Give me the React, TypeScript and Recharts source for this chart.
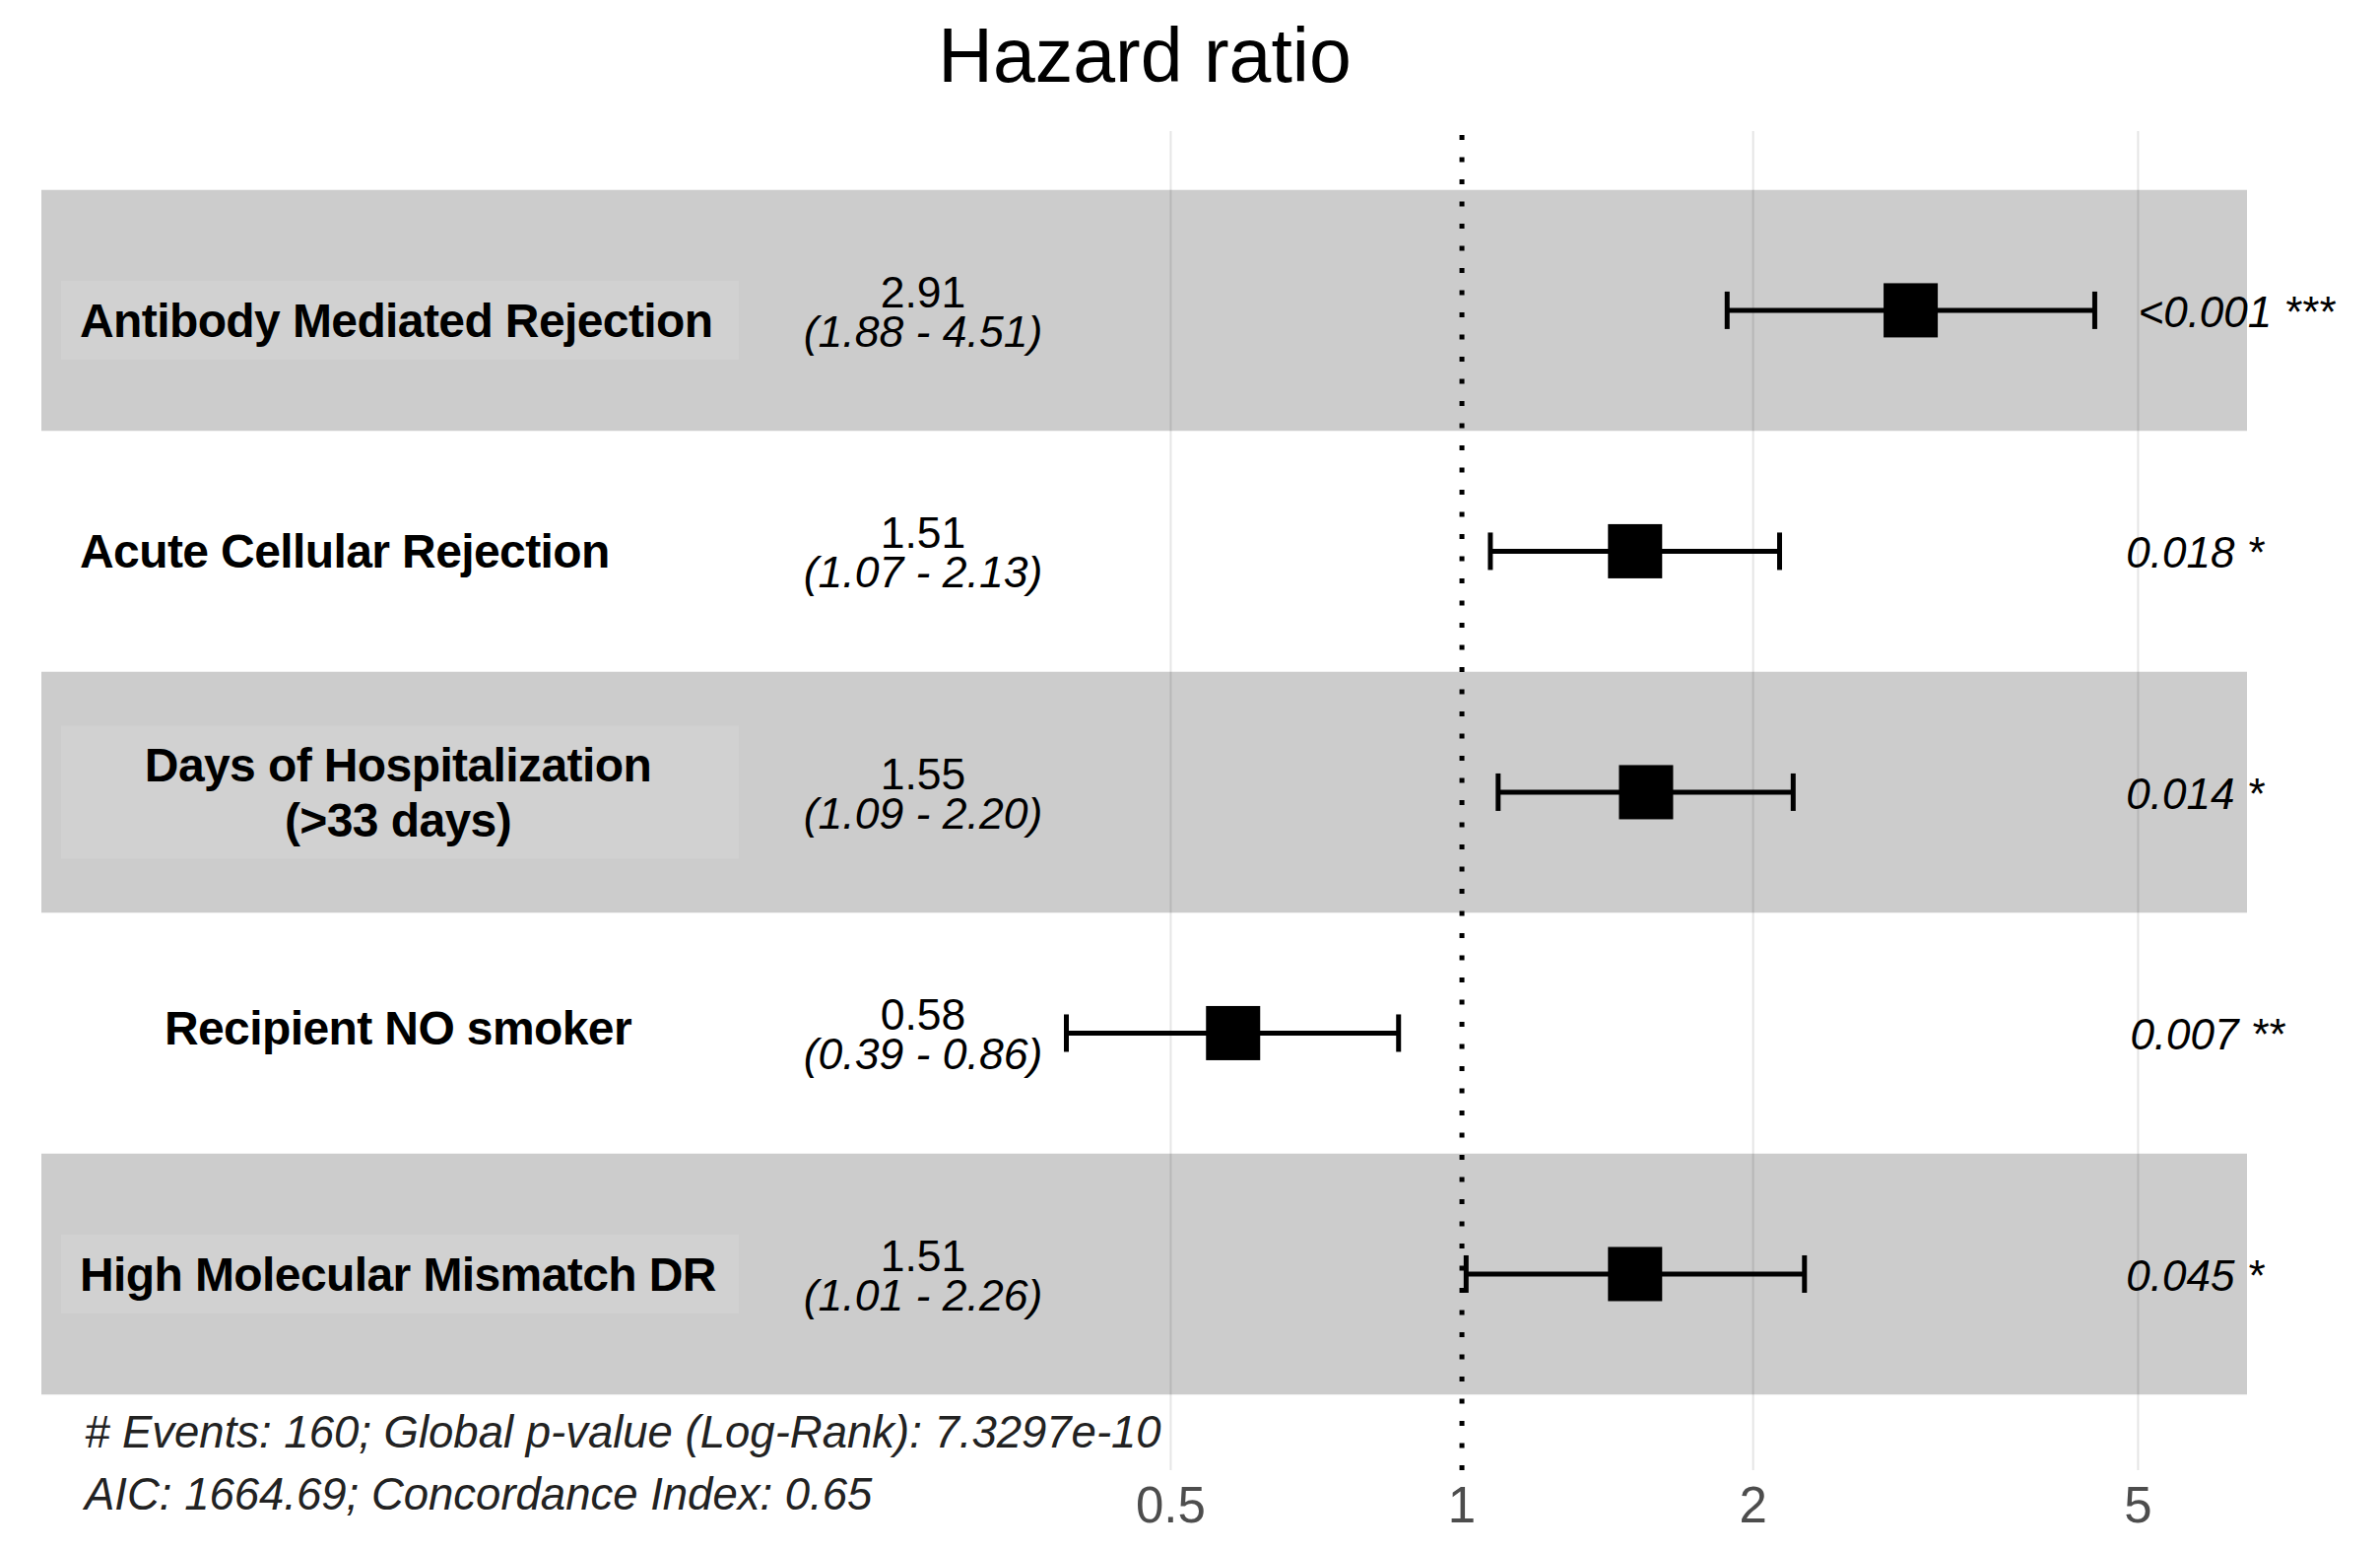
import React from "react";
import { ComposedChart, Scatter, XAxis, YAxis, ErrorBar, ReferenceArea, ReferenceLine } from "recharts";

const variables = [
  "Antibody Mediated Rejection",
  "Acute Cellular Rejection",
  "Days of Hospitalization\n(>33 days)",
  "Recipient NO smoker",
  "High Molecular Mismatch DR",
];
const hazardRatios = [2.91, 1.51, 1.55, 0.58, 1.51];
const lowerCI = [1.88, 1.07, 1.09, 0.39, 1.01];
const upperCI = [4.51, 2.13, 2.2, 0.86, 2.26];
const pValues = ["<0.001", "0.018", "0.014", "0.007", "0.045"];
const stars = ["***", "*", "*", "**", "*"];
const xTicks = [0.5, 1, 2, 5];
const gridTicks = [0.5, 2, 5];
const footnotes = [
  "# Events: 160; Global p-value (Log-Rank): 7.3297e-10",
  "AIC: 1664.69; Concordance Index: 0.65",
];

const data = variables.map((name, i) => ({
  row: i + 1,
  name,
  hr: hazardRatios[i],
  lo: lowerCI[i],
  hi: upperCI[i],
  err: [hazardRatios[i] - lowerCI[i], upperCI[i] - hazardRatios[i]],
  p: pValues[i],
  stars: stars[i],
}));

const FONT = "'Liberation Sans', Arial, sans-serif";
// name placement, as in the figure (left-aligned or centred, small vertical nudges)
const labelAlign = ["start", "start", "middle", "middle", "start"];
const labelNudge = [10, 0, 0, -5, 0];

// square marker plus the row's text columns (name, HR with CI, p-value)
const RowMark = (props: any) => {
  const { cx, cy, payload } = props;
  const d = payload;
  const lines = d.name.split("\n");
  const boxH = lines.length > 1 ? 135 : 80;
  const align = labelAlign[d.row - 1];
  const ly = cy + labelNudge[d.row - 1];
  const lx = align === "start" ? 81 : 404;
  const pText = `${d.p} ${d.stars}`;
  const pShift = 0.2 * pText.length * 0.46 * 44;
  return (
    <g fontFamily={FONT}>
      <rect x={62} y={ly - boxH / 2} width={688} height={boxH} fill="rgba(255,255,255,0.1)" />
      {lines.map((t: string, k: number) => (
        <text
          key={k}
          x={lx}
          y={ly + 17 + (k - (lines.length - 1) / 2) * 56}
          textAnchor={align}
          fontSize={48}
          fontWeight="bold"
          fill="#000"
          letterSpacing={-0.6}
        >
          {t}
        </text>
      ))}
      <text x={937} y={cy - 3} textAnchor="middle" fontSize={44.5} fill="#000">
        {d.hr.toFixed(2)}
      </text>
      <text x={937} y={cy + 37} textAnchor="middle" fontSize={44.5} fontStyle="italic" fill="#000">
        {`(${d.lo.toFixed(2)} - ${d.hi.toFixed(2)})`}
      </text>
      <text x={2130 + pShift} y={cy + 17} textAnchor="start" fontSize={44} fontStyle="italic" fill="#000">
        {pText}
      </text>
      <rect x={cx - 27.5} y={cy - 27.5} width={55} height={55} fill="#000" />
    </g>
  );
};

function HrTick(props: any) {
  const { x, y, payload } = props;
  return (
    <text x={x} y={y + 53} textAnchor="middle" fontSize={51} fill="#4d4d4d" fontFamily={FONT}>
      {payload.value}
    </text>
  );
}

export default function App() {
  return (
    <div style={{ position: "absolute", left: 0, top: 0, width: 2416, height: 1572, background: "#fff" }}>
      <ComposedChart width={2416} height={1572} data={data} margin={{ top: 133, right: 135, bottom: 0, left: 42 }}>
        <XAxis
          dataKey="hr"
          type="number"
          scale="log"
          domain={[0.034, 6.48]}
          ticks={xTicks}
          interval={0}
          axisLine={false}
          tickLine={false}
          tickSize={0}
          tickMargin={0}
          height={80}
          tick={<HrTick />}
        />
        <YAxis dataKey="row" type="number" domain={[0.256, 5.814]} reversed hide width={0} />
        {[1, 3, 5].map((r) => (
          <ReferenceArea key={r} y1={r - 0.5} y2={r + 0.5} fill="#cccccc" fillOpacity={1} stroke="none" />
        ))}
        {gridTicks.map((t) => (
          <ReferenceLine key={t} x={t} stroke="rgba(0,0,0,0.1)" strokeWidth={2} />
        ))}
        <ReferenceLine x={1} stroke="#000" strokeWidth={5} strokeDasharray="5 17.5" />
        <Scatter dataKey="row" fill="#000" shape={<RowMark />} isAnimationActive={false}>
          <ErrorBar dataKey="err" direction="x" width={19} stroke="#000" strokeWidth={5} />
        </Scatter>
      </ComposedChart>
      <svg
        width={2416}
        height={1572}
        style={{ position: "absolute", left: 0, top: 0, pointerEvents: "none" }}
        fontFamily={FONT}
      >
        <text x={1162} y={83} textAnchor="middle" fontSize={77} fill="#000">
          Hazard ratio
        </text>
        {footnotes.map((f, i) => (
          <text key={i} x={86} y={1469 + i * 63} fontSize={45.5} fontStyle="italic" fill="#222">
            {f}
          </text>
        ))}
      </svg>
    </div>
  );
}
